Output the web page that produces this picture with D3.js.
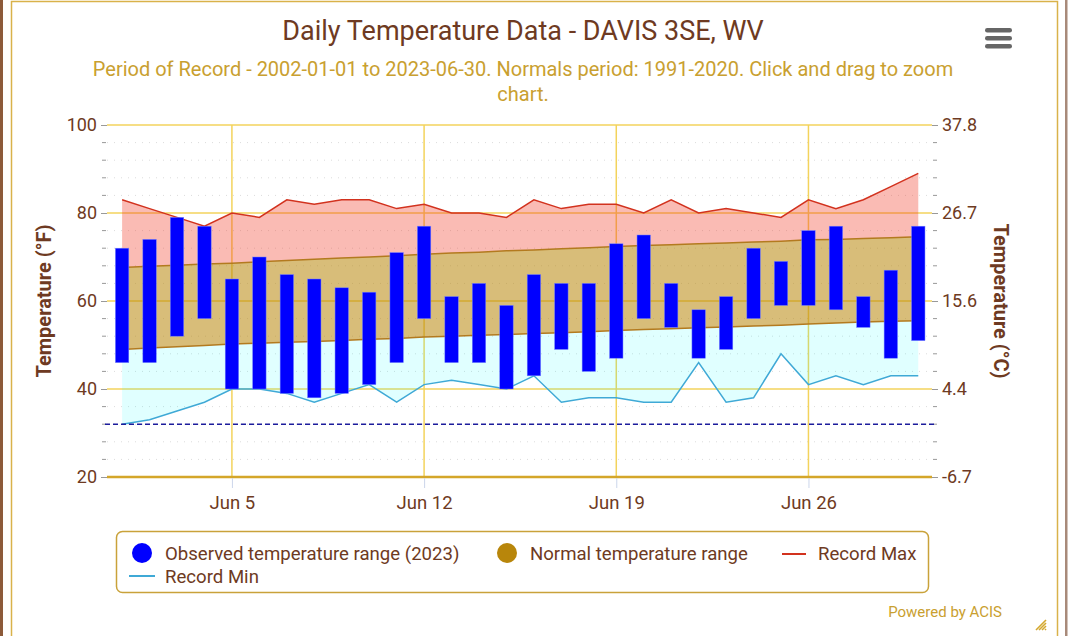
<!DOCTYPE html>
<html>
<head>
<meta charset="utf-8">
<script src="https://cdn.jsdelivr.net/npm/d3@7"></script>
<style>
  html, body { margin: 0; padding: 0; background: #fff; }
  svg { display: block; font-family: Roboto, "Noto Sans", sans-serif; }
</style>
</head>
<body>
<svg id="chart" width="1080" height="636"></svg>
<script>
// --- data, June 2023, DAVIS 3SE WV (°F) ---
const days = d3.range(1, 31);
const obsMin = [46, 46, 52, 56, 40, 40, 39, 38, 39, 41, 46, 56, 46, 46, 40, 43, 49, 44, 47, 56, 54, 47, 49, 56, 59, 59, 58, 54, 47, 51];
const obsMax = [72, 74, 79, 77, 65, 70, 66, 65, 63, 62, 71, 77, 61, 64, 59, 66, 64, 64, 73, 75, 64, 58, 61, 72, 69, 76, 77, 61, 67, 77];
const normMax = [67.6, 67.9, 68.1, 68.4, 68.6, 68.9, 69.2, 69.5, 69.8, 70.0, 70.3, 70.6, 70.9, 71.1, 71.4,
                 71.6, 71.9, 72.1, 72.4, 72.6, 72.8, 73.0, 73.2, 73.4, 73.6, 73.9, 74.0, 74.2, 74.4, 74.6];
const normMin = [49.0, 49.3, 49.6, 49.9, 50.2, 50.4, 50.6, 50.8, 51.0, 51.3, 51.5, 51.8, 52.0, 52.2, 52.4,
                 52.6, 52.8, 53.0, 53.3, 53.5, 53.7, 53.9, 54.1, 54.3, 54.5, 54.8, 55.0, 55.2, 55.4, 55.5];
const recMax = [83, 81, 79, 77, 80, 79, 83, 82, 83, 83, 81, 82, 80, 80, 79, 83, 81, 82, 82, 80, 83, 80, 81, 80, 79, 83, 81, 83, 86, 89];
const recMin = [32, 33, 35, 37, 40, 40, 39, 37, 39, 41, 37, 41, 42, 41, 40, 43, 37, 38, 38, 37, 37, 46, 37, 38, 48, 41, 43, 41, 43, 43];
const xTickDays = [5, 12, 19, 26];
const yTicksF = [20, 40, 60, 80, 100];
const freezing = 32;

const rows = days.map((d, i) => ({
  date: new Date(Date.UTC(2023, 5, d)),
  lo: obsMin[i], hi: obsMax[i],
  nMax: normMax[i], nMin: normMin[i],
  rMax: recMax[i], rMin: recMin[i]
}));

const svg = d3.select('#chart');
const brown = '#6e3a22', gold = '#c9a030';
const pLeft = 107, pRight = 932, pTop = 125, pBottom = 477;
const DAY = 864e5;

const x = d3.scaleUtc()
  .domain([new Date(rows[0].date - 0.55 * DAY), new Date(+rows[29].date + 0.5 * DAY)])
  .range([pLeft, pRight]);
const y = d3.scaleLinear().domain([20, 100]).range([pBottom, pTop]);
const f2c = f => (f - 32) * 5 / 9;

// frame
svg.append('rect').attr('x', 0).attr('y', 0).attr('width', 3).attr('height', 636).attr('fill', '#8c5a3a');
svg.append('rect').attr('x', 11.5).attr('y', 1.5).attr('width', 1046).attr('height', 660)
  .attr('fill', 'none').attr('stroke', '#d9b24a').attr('stroke-width', 1.5);
svg.append('rect').attr('x', 1065).attr('y', 0).attr('width', 2.5).attr('height', 636).attr('fill', '#a88a7a');

// title
svg.append('text').attr('x', 523).attr('y', 40).attr('text-anchor', 'middle')
  .attr('font-size', 27).attr('fill', brown).text('Daily Temperature Data - DAVIS 3SE, WV');
const sub = svg.append('text').attr('text-anchor', 'middle').attr('font-size', 20).attr('fill', gold);
sub.append('tspan').attr('x', 523).attr('y', 76)
  .text('Period of Record - 2002-01-01 to 2023-06-30. Normals period: 1991-2020. Click and drag to zoom');
sub.append('tspan').attr('x', 523).attr('y', 101).text('chart.');

// menu icon
[30, 38, 46].forEach(v => {
  svg.append('rect').attr('x', 985).attr('y', v - 2).attr('width', 27).attr('height', 4.5)
    .attr('rx', 2.2).attr('fill', '#666');
});

// minor grid (dotted) every 4 °F
const minor = d3.range(20, 101, 4).filter(v => v % 20 !== 0);
svg.append('g').selectAll('line').data(minor).join('line')
  .attr('x1', pLeft).attr('x2', pRight).attr('y1', d => y(d)).attr('y2', d => y(d))
  .attr('stroke', '#dcdcdc').attr('stroke-dasharray', '1,6');
svg.append('g').selectAll('line').data(minor).join('line')
  .attr('x1', pLeft - 5).attr('x2', pLeft - 1).attr('y1', d => y(d)).attr('y2', d => y(d))
  .attr('stroke', '#999');
svg.append('g').selectAll('line').data(minor).join('line')
  .attr('x1', pRight + 1).attr('x2', pRight + 5).attr('y1', d => y(d)).attr('y2', d => y(d))
  .attr('stroke', '#999');

// major horizontal grid
svg.append('g').selectAll('line').data(yTicksF.filter(v => v > 20)).join('line')
  .attr('x1', pLeft).attr('x2', pRight).attr('y1', d => y(d)).attr('y2', d => y(d))
  .attr('stroke', '#f3d35c').attr('stroke-width', 1.5);

// vertical grid
const tickDates = xTickDays.map(d => new Date(Date.UTC(2023, 5, d)));
svg.append('g').selectAll('line').data(tickDates).join('line')
  .attr('x1', d => x(d)).attr('x2', d => x(d)).attr('y1', pTop).attr('y2', pBottom)
  .attr('stroke', '#f3d35c').attr('stroke-width', 1.5);

// areas
const band = (a, b) => d3.area().x(d => x(d.date)).y0(d => y(d[a])).y1(d => y(d[b]));
svg.append('path').datum(rows).attr('d', band('nMax', 'rMax'))
  .attr('fill', 'rgb(240,60,40)').attr('fill-opacity', 0.35);
svg.append('path').datum(rows).attr('d', band('nMin', 'nMax'))
  .attr('fill', '#b8860b').attr('fill-opacity', 0.55);
svg.append('path').datum(rows).attr('d', band('rMin', 'nMin'))
  .attr('fill', 'cyan').attr('fill-opacity', 0.12);

const line = k => d3.line().x(d => x(d.date)).y(d => y(d[k]));
svg.append('path').datum(rows).attr('d', line('nMax')).attr('fill', 'none').attr('stroke', '#b37a1f').attr('stroke-width', 1.5);
svg.append('path').datum(rows).attr('d', line('nMin')).attr('fill', 'none').attr('stroke', '#b37a1f').attr('stroke-width', 1.5);
svg.append('path').datum(rows).attr('d', line('rMax')).attr('fill', 'none').attr('stroke', '#d2321e').attr('stroke-width', 1.5);
svg.append('path').datum(rows).attr('d', line('rMin')).attr('fill', 'none').attr('stroke', '#3fa9d6').attr('stroke-width', 1.5);

// observed bars
const bw = 13.4;
svg.append('g').selectAll('rect').data(rows).join('rect')
  .attr('x', d => x(d.date) - bw / 2).attr('width', bw)
  .attr('y', d => y(d.hi)).attr('height', d => y(d.lo) - y(d.hi))
  .attr('fill', '#0000ff').attr('stroke', '#6f7fff').attr('stroke-width', 0.5);

// freezing line
svg.append('line').attr('x1', pLeft - 2).attr('x2', pRight + 4).attr('y1', y(freezing)).attr('y2', y(freezing))
  .attr('stroke', '#1c1c9c').attr('stroke-width', 1.5).attr('stroke-dasharray', '5,3');

// x axis line + ticks
svg.append('line').attr('x1', pLeft).attr('x2', pRight).attr('y1', pBottom).attr('y2', pBottom)
  .attr('stroke', '#d4a62a').attr('stroke-width', 2.5);
const xAxis = d3.axisBottom(x).tickValues(tickDates).tickSize(10).tickPadding(8)
  .tickFormat(d3.utcFormat('%b %-d'));
const gx = svg.append('g').attr('transform', `translate(0,${pBottom + 1})`).call(xAxis);
gx.select('.domain').remove();
gx.selectAll('.tick line').attr('stroke', '#ccd6eb');
gx.selectAll('.tick text').attr('font-size', 18.5).attr('fill', brown).attr('font-family', 'Roboto');

// left y axis
const yl = svg.append('g').attr('transform', `translate(${pLeft},0)`)
  .call(d3.axisLeft(y).tickValues(yTicksF).tickSize(6).tickPadding(4));
yl.select('.domain').remove();
yl.selectAll('.tick line').attr('stroke', '#999');
yl.selectAll('.tick text').attr('font-size', 18).attr('fill', brown).attr('font-family', 'Roboto');

// right y axis (°C)
const yr = svg.append('g').attr('transform', `translate(${pRight},0)`)
  .call(d3.axisRight(y).tickValues(yTicksF).tickSize(6).tickPadding(4).tickFormat(f => f2c(f).toFixed(1)));
yr.select('.domain').remove();
yr.selectAll('.tick line').attr('stroke', '#999');
yr.selectAll('.tick text').attr('font-size', 18).attr('fill', brown).attr('font-family', 'Roboto');

// axis titles
svg.append('text').attr('transform', `translate(51,${(pTop + pBottom) / 2}) rotate(-90)`)
  .attr('text-anchor', 'middle').attr('font-size', 20).attr('font-weight', 'bold').attr('fill', brown)
  .text('Temperature (°F)');
svg.append('text').attr('transform', `translate(994,${(pTop + pBottom) / 2}) rotate(90)`)
  .attr('text-anchor', 'middle').attr('font-size', 20).attr('font-weight', 'bold').attr('fill', brown)
  .text('Temperature (°C)');

// legend
svg.append('rect').attr('x', 116.5).attr('y', 531.5).attr('width', 812).attr('height', 61).attr('rx', 6)
  .attr('fill', '#fff').attr('stroke', '#c9a23a').attr('stroke-width', 1.5);
const lg = svg.append('g').attr('font-size', 18.6).attr('fill', brown);
lg.append('circle').attr('cx', 142).attr('cy', 553).attr('r', 10).attr('fill', '#0000ff');
lg.append('text').attr('x', 165).attr('y', 560).text('Observed temperature range (2023)');
lg.append('circle').attr('cx', 507).attr('cy', 553).attr('r', 10).attr('fill', '#b8860b');
lg.append('text').attr('x', 530).attr('y', 560).text('Normal temperature range');
lg.append('line').attr('x1', 782).attr('x2', 806).attr('y1', 554).attr('y2', 554).attr('stroke', '#d2321e').attr('stroke-width', 2);
lg.append('text').attr('x', 818).attr('y', 560).text('Record Max');
lg.append('line').attr('x1', 129).attr('x2', 155).attr('y1', 576).attr('y2', 576).attr('stroke', '#3fa9d6').attr('stroke-width', 2);
lg.append('text').attr('x', 165).attr('y', 583).text('Record Min');

// credits
svg.append('text').attr('x', 1002).attr('y', 617).attr('text-anchor', 'end')
  .attr('font-size', 15).attr('fill', gold).text('Powered by ACIS');
[0, 3, 6, 9].forEach(o => {
  svg.append('line').attr('x1', 1036 + o).attr('y1', 630).attr('x2', 1046).attr('y2', 620 + o)
    .attr('stroke', '#d4a830').attr('stroke-width', 1.6);
});
</script>
</body>
</html>
